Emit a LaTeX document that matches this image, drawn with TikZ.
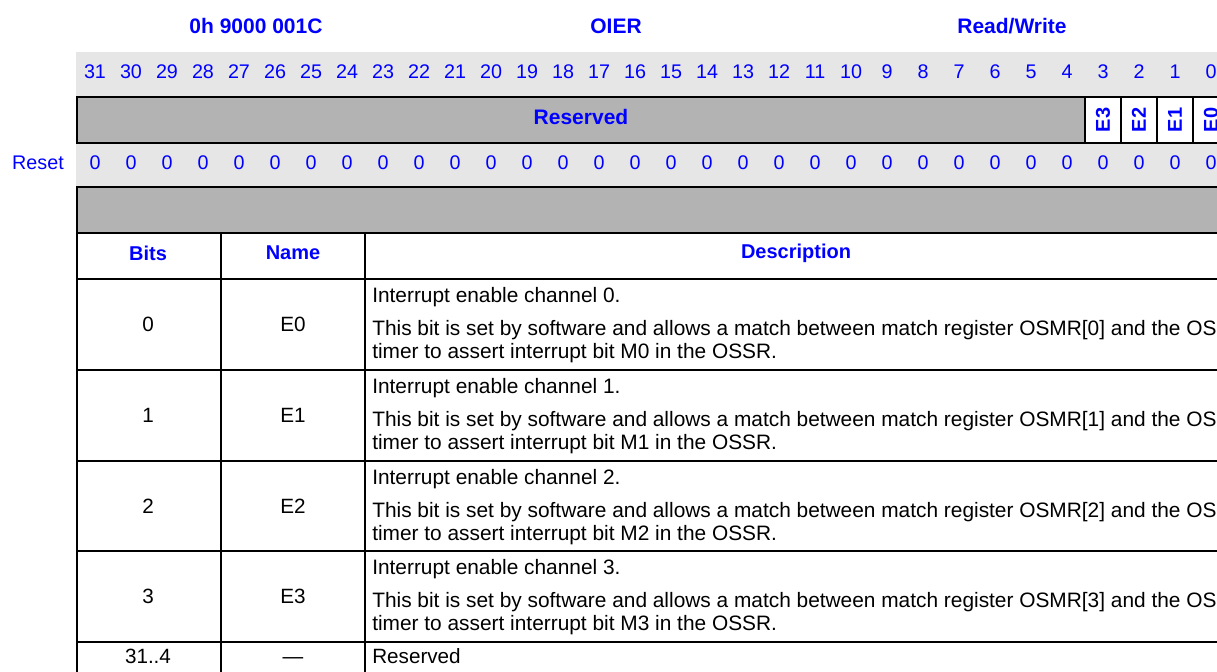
\documentclass[tikz,border=0pt]{standalone}
\usepackage{fontspec}
\setmainfont{Liberation Sans}
\definecolor{regblue}{RGB}{0,0,255}
\definecolor{lightband}{RGB}{230,230,230}
\definecolor{darkband}{RGB}{179,179,179}
\begin{document}
\begin{tikzpicture}[x=0.75pt,y=-0.75pt,
  title/.style={font=\fontsize{15.75}{18}\selectfont\bfseries, text=regblue, inner sep=0pt},
  colhead/.style={font=\fontsize{15}{18}\selectfont\bfseries, text=regblue, inner sep=0pt},
  bitnum/.style={font=\fontsize{14.8}{17}\selectfont, text=regblue, inner sep=0pt},
  vlabel/.style={font=\fontsize{15}{17}\selectfont\bfseries, text=regblue, inner sep=0pt, rotate=90},
  cell/.style={font=\fontsize{15.5}{18}\selectfont, text=black, inner sep=0pt},
  basecell/.style={font=\fontsize{15.5}{18}\selectfont, text=black, inner sep=0pt, anchor=base},
  desc/.style={font=\fontsize{15.65}{18}\selectfont, text=black, inner sep=0pt, anchor=west},
  rule/.style={line width=1.4pt, black}]
\useasboundingbox (0,0) rectangle (1217,671);
\clip (0,0) rectangle (1217,671);
% titles
\node[title] (addr) at (256,26) {0h 9000 001C};
\node[title] (reg) at (616,26) {OIER};
\node[title] (rw) at (1012,26) {Read/Write};
% light band
\fill[lightband] (76,52) rectangle (1232,187);
% bit numbers and reset values
\foreach \i in {0,...,31} {
  \pgfmathsetmacro{\cx}{95+(31-\i)*36}
  \node[bitnum] (bit\i) at (\cx,72) {\i};
  \node[bitnum] (rst\i) at (\cx,163) {0};
}
\node[bitnum] (resetlbl) at (38,163) {Reset};
% field row
\filldraw[rule, fill=darkband] (77,97) rectangle (1085,143);
\filldraw[rule, fill=white] (1085,97) rectangle (1121,143);
\filldraw[rule, fill=white] (1121,97) rectangle (1157,143);
\filldraw[rule, fill=white] (1157,97) rectangle (1193,143);
\filldraw[rule, fill=white] (1193,97) rectangle (1229,143);
\node[title] (resfield) at (581,117) {Reserved};
\node[vlabel] (fE3) at (1103,120) {E3};
\node[vlabel] (fE2) at (1139,120) {E2};
\node[vlabel] (fE1) at (1175,120) {E1};
\node[vlabel] (fE0) at (1211,120) {E0};
% table
\filldraw[rule, fill=darkband] (77,187) rectangle (1229,233);
\draw[rule] (77,233) rectangle (1229,676);
\foreach \yy in {279,370,461,551,642} { \draw[rule] (77,\yy) -- (1229,\yy); }
\draw[rule] (221,233) -- (221,676);
\draw[rule] (365,233) -- (365,676);
\node[colhead] (hbits) at (148,253) {Bits};
\node[colhead] (hname) at (293,253) {Name};
\node[colhead] (hdesc) at (796,253) {Description};
\foreach \r/\t in {0/279,1/370,2/461,3/551} {
  \node[cell] (bits\r) at (148,\t+45) {\r};
  \node[cell] (name\r) at (293,\t+45) {E\r};
  \node[desc] (da\r) at (372,\t+18) {Interrupt enable channel \r.};
  \node[desc] (db\r) at (372,\t+51) {This bit is set by software and allows a match between match register OSMR[\r] and the OS};
  \node[desc] (dc\r) at (372,\t+74) {timer to assert interrupt bit M\r\ in the OSSR.};
}
\node[basecell] (bitsres) at (148,663) {31..4};
\node[basecell] (nameres) at (293,663) {—};
\node[basecell, anchor=base west] (descres) at (372,663) {Reserved};
\end{tikzpicture}
\end{document}
